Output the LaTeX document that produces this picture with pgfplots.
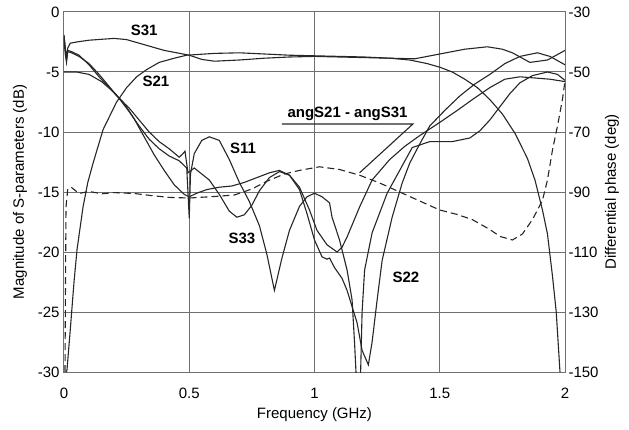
\documentclass[border=0pt]{standalone}
\usepackage{fontspec}
\setmainfont{Liberation Sans}
\usepackage{pgfplots}
\pgfplotsset{compat=1.18}
\usetikzlibrary{calc}
\definecolor{curve}{HTML}{262626}
\definecolor{gridc}{HTML}{707070}
\tikzset{sline/.style={curve, no marks, line width=1.1pt}}

% S-parameter magnitudes (dB)
\pgfplotstableread{
f dB
0.000 -1.9
0.005 -3.0
0.010 -3.8
0.015 -3.0
0.025 -2.6
0.050 -2.5
0.100 -2.35
0.200 -2.2
0.250 -2.3
0.300 -2.6
0.350 -2.9
0.400 -3.2
0.450 -3.4
0.500 -3.6
0.550 -3.95
0.600 -4.1
0.700 -4.0
0.800 -3.85
0.900 -3.75
1.000 -3.7
1.100 -3.75
1.200 -3.8
1.300 -3.85
1.400 -3.9
1.450 -3.7
1.500 -3.5
1.600 -3.1
1.690 -2.9
1.750 -3.1
1.790 -3.4
1.860 -4.2
1.930 -4.0
2.000 -3.2
}\sthreeone
\pgfplotstableread{
f dB
0.010 -30
0.012 -29.8
0.024 -26.75
0.040 -22.5
0.052 -19.8
0.076 -16.25
0.095 -14.2
0.116 -12.6
0.156 -9.8
0.210 -7.5
0.250 -6.3
0.290 -5.4
0.330 -4.8
0.380 -4.2
0.440 -3.85
0.490 -3.6
0.600 -3.45
0.700 -3.4
0.800 -3.5
0.900 -3.6
1.000 -3.65
1.100 -3.7
1.200 -3.75
1.300 -3.85
1.380 -4.0
1.450 -4.3
1.500 -4.6
1.550 -5.0
1.600 -5.6
1.650 -6.3
1.700 -7.3
1.750 -8.5
1.800 -10.1
1.850 -12.2
1.880 -14.0
1.910 -16.5
1.930 -18.5
1.950 -22.0
1.965 -25.0
1.980 -30.0
}\stwoone
\pgfplotstableread{
f dB
0.000 -2.3
0.005 -3.5
0.010 -4.2
0.015 -3.3
0.030 -3.4
0.060 -3.7
0.100 -4.3
0.140 -5.2
0.180 -6.2
0.220 -7.2
0.260 -8.3
0.300 -9.5
0.340 -10.6
0.380 -11.4
0.420 -12.0
0.460 -12.4
0.490 -13.0
0.500 -17.2
0.505 -13.5
0.520 -11.8
0.550 -10.7
0.580 -10.4
0.620 -10.7
0.660 -12.3
0.700 -14.2
0.740 -15.8
0.780 -17.8
0.810 -20.2
0.840 -23.2
0.870 -20.5
0.900 -18.2
0.940 -16.2
0.970 -15.4
1.000 -15.1
1.030 -15.4
1.060 -15.9
1.070 -17.1
1.100 -19.0
1.130 -21.5
1.150 -24.0
1.160 -27.6
1.168 -31.0
1.175 -34.0
1.183 -31.0
1.190 -25.0
1.200 -21.5
1.230 -18.4
1.290 -15.1
1.340 -13.2
1.390 -11.3
1.460 -10.8
1.550 -10.8
1.620 -10.5
1.660 -9.9
1.700 -9.0
1.740 -7.9
1.780 -6.8
1.820 -5.9
1.870 -5.3
1.930 -5.0
1.970 -5.2
2.000 -5.7
}\soneone
\pgfplotstableread{
f dB
0.000 -2.0
0.005 -3.0
0.010 -4.0
0.015 -3.2
0.030 -3.3
0.060 -3.6
0.100 -4.4
0.140 -5.4
0.180 -6.3
0.220 -7.2
0.260 -8.0
0.300 -9.0
0.340 -10.0
0.380 -10.8
0.420 -11.4
0.460 -12.1
0.475 -11.8
0.483 -11.6
0.495 -13.4
0.520 -13.0
0.550 -13.5
0.580 -14.0
0.620 -15.2
0.660 -16.6
0.690 -17.1
0.720 -16.9
0.750 -16.1
0.780 -14.9
0.820 -13.8
0.860 -13.3
0.900 -13.6
0.940 -14.6
0.980 -16.5
1.010 -18.2
1.050 -19.4
1.090 -20.0
1.110 -19.6
1.130 -18.75
1.180 -16.25
1.230 -14.0
1.300 -12.3
1.360 -11.2
1.420 -10.3
1.500 -9.2
1.570 -8.2
1.630 -7.3
1.700 -6.3
1.760 -5.6
1.820 -5.4
1.880 -5.5
1.940 -5.6
2.000 -5.8
}\sthreethree
\pgfplotstableread{
f dB
0.000 -5.0
0.050 -5.0
0.100 -5.2
0.150 -5.8
0.200 -6.7
0.240 -7.6
0.280 -8.9
0.320 -10.4
0.360 -11.9
0.400 -13.2
0.440 -14.4
0.480 -15.2
0.500 -15.4
0.530 -15.1
0.570 -14.8
0.620 -14.6
0.670 -14.5
0.720 -14.2
0.770 -13.8
0.820 -13.4
0.860 -13.2
0.900 -13.6
0.940 -14.8
0.970 -16.8
1.000 -19.0
1.030 -20.4
1.050 -20.6
1.060 -20.5
1.080 -21.3
1.110 -22.2
1.130 -23.2
1.170 -25.9
1.190 -28.2
1.215 -29.4
1.230 -27.5
1.250 -24.0
1.270 -20.7
1.310 -17.1
1.350 -14.25
1.380 -12.6
1.420 -11.0
1.460 -9.5
1.520 -8.2
1.580 -7.0
1.640 -6.0
1.700 -5.2
1.760 -4.3
1.820 -3.7
1.890 -3.4
1.940 -3.7
2.000 -4.4
}\stwotwo
% differential phase (deg), right axis
\pgfplotstableread{
f deg
0.004 -150
0.006 -120
0.008 -95
0.015 -89
0.030 -88.5
0.060 -90.5
0.100 -89.8
0.150 -90.6
0.200 -90.2
0.280 -90.5
0.350 -91.2
0.420 -91.8
0.500 -92.0
0.600 -91.5
0.680 -91.0
0.750 -89.0
0.810 -86.4
0.880 -84.0
0.940 -82.8
1.020 -81.6
1.100 -82.5
1.180 -84.4
1.260 -87.0
1.340 -90.0
1.420 -93.0
1.500 -96.0
1.570 -97.5
1.630 -99.2
1.700 -102.5
1.740 -104.8
1.790 -106.0
1.830 -104.0
1.870 -99.2
1.910 -92.8
1.930 -86.0
1.950 -76.0
1.970 -68.0
1.990 -59.0
2.000 -53.0
}\phase

\begin{document}
\begin{tikzpicture}[font=\fontsize{15}{18}\selectfont]
\begin{axis}[
    name=ax,
    scale only axis,
    width=501pt, height=360pt,
    xmin=0, xmax=2, ymin=-30, ymax=0,
    xtick={0,0.5,1,1.5,2},
    xticklabels={0,0.5,1,1.5,2},
    ytick={-30,-25,-20,-15,-10,-5,0},
    yticklabels={-30,-25,-20,-15,-10,-5,0},
    xtick pos=bottom, ytick pos=left,
    major tick length=0pt,
    grid=major,
    grid style={gridc, line width=1pt},
    axis line style={gridc, line width=1pt},
    xticklabel style={anchor=center, yshift=-21pt},
    yticklabel style={anchor=east, xshift=-1pt},
    xlabel={Frequency (GHz)},
    xlabel style={at={(axis description cs:0.5,-0.119)}, anchor=center},
    ylabel={Magnitude of S-parameters (dB)},
    ylabel style={at={(axis description cs:-0.0878,0.5)}, anchor=center, rotate=0},
]
\addplot[sline] table[x=f, y=dB] {\sthreeone};
\addplot[sline] table[x=f, y=dB] {\stwoone};
\addplot[sline] table[x=f, y=dB] {\soneone};
\addplot[sline] table[x=f, y=dB] {\sthreethree};
\addplot[sline] table[x=f, y=dB] {\stwotwo};

\node[font=\fontsize{15}{18}\selectfont\bfseries] at (axis cs:0.32,-1.5) {S31};
\node[font=\fontsize{15}{18}\selectfont\bfseries] at (axis cs:0.367,-5.8) {S21};
\node[font=\fontsize{15}{18}\selectfont\bfseries] at (axis cs:0.715,-11.4) {S11};
\node[font=\fontsize{15}{18}\selectfont\bfseries] at (axis cs:0.71,-18.9) {S33};
\node[font=\fontsize{15}{18}\selectfont\bfseries] at (axis cs:1.365,-22.1) {S22};
\node[font=\fontsize{15}{18}\selectfont\bfseries, anchor=base] at (axis cs:1.132,-8.75) {angS21 - angS31};
\draw[curve, line width=1.1pt] (axis cs:0.87,-9.33) -- (axis cs:1.393,-9.33) -- (axis cs:1.18,-13.4);
\end{axis}

\begin{axis}[
    scale only axis,
    width=501pt, height=360pt,
    xmin=0, xmax=2, ymin=-150, ymax=-30,
    axis x line=none,
    axis y line*=right,
    ytick={-150,-130,-110,-90,-70,-50,-30},
    yticklabels={{-150},{-130},{-110},{-90},{-70},{-50},{-30}},
    major tick length=0pt,
    axis line style={gridc, line width=1pt},
    yticklabel style={anchor=west, xshift=0pt},
    ylabel={Differential phase (deg)},
    ylabel style={at={(axis description cs:1.094,0.5)}, anchor=center, rotate=0},
]
\addplot[sline, dash pattern=on 7pt off 4pt] table[x=f, y=deg] {\phase};
\end{axis}

\pgfresetboundingbox
\path[use as bounding box] ($(ax.south west)+(-64pt,-57pt)$) rectangle ($(ax.north east)+(64pt,12pt)$);
\end{tikzpicture}
\end{document}
